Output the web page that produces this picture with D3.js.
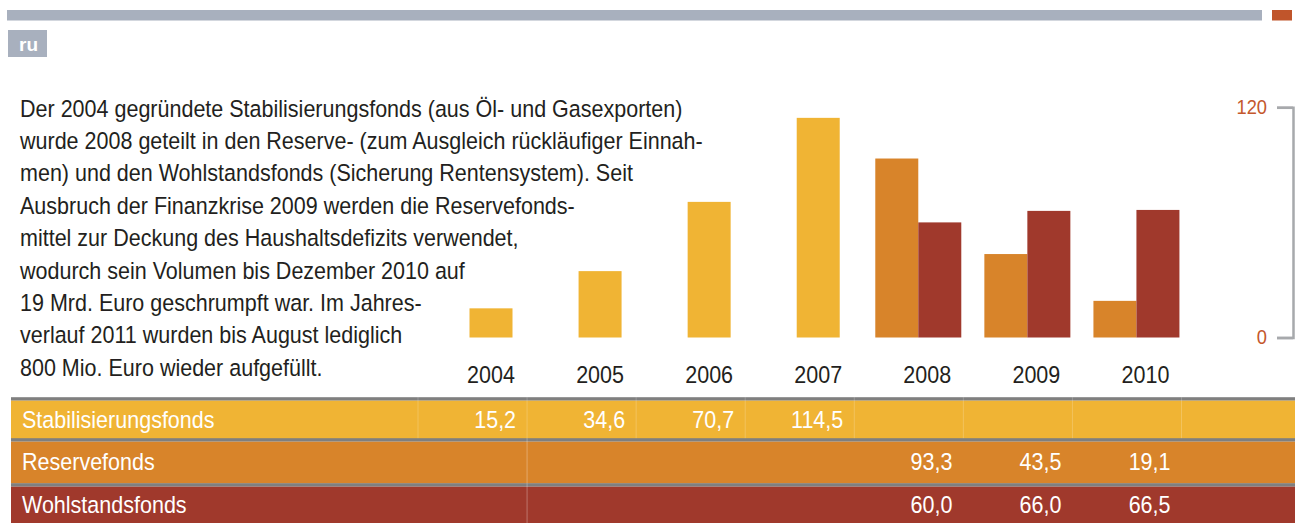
<!DOCTYPE html>
<html>
<head>
<meta charset="utf-8">
<script src="https://cdn.jsdelivr.net/npm/d3@7"></script>
<style>
  html, body { margin: 0; padding: 0; background: #fff; }
  svg { display: block; }
  text { font-family: "Liberation Sans", Arial, sans-serif; }
</style>
</head>
<body>
<div class="chart-container"></div>
<script>
// data
const years = ["2004", "2005", "2006", "2007", "2008", "2009", "2010"];
const stabilisierung = [15.2, 34.6, 70.7, 114.5, null, null, null];
const reserve = [null, null, null, null, 93.3, 43.5, 19.1];
const wohlstand = [null, null, null, null, 60.0, 66.0, 66.5];
const seriesNames = ["Stabilisierungsfonds", "Reservefonds", "Wohlstandsfonds"];
const yTicks = [0, 120];
const noteLines = [
  "Der 2004 gegründete Stabilisierungsfonds (aus Öl- und Gasexporten)",
  "wurde 2008 geteilt in den Reserve- (zum Ausgleich rückläufiger Einnah-",
  "men) und den Wohlstandsfonds (Sicherung Rentensystem). Seit",
  "Ausbruch der Finanzkrise 2009 werden die Reservefonds-",
  "mittel zur Deckung des Haushaltsdefizits verwendet,",
  "wodurch sein Volumen bis Dezember 2010 auf",
  "19 Mrd. Euro geschrumpft war. Im Jahres-",
  "verlauf 2011 wurden bis August lediglich",
  "800 Mio. Euro wieder aufgefüllt."
];

const width = 1297;
const height = 523;
const colors = ["#f0b434", "#d8842a", "#a0392c"];
const grey = "#a8b0be";
const fs = 23.5;

const svg = d3.select(".chart-container").append("svg")
  .attr("width", width)
  .attr("height", height);

// no narrow font installed: squeeze Liberation Sans to the width of the first line
const probe = svg.append("text").style("font-size", fs + "px").text(noteLines[0]);
const sx = 663 / probe.node().getComputedTextLength();
probe.remove();

// place condensed text at (x, y)
const narrow = (sel, x, y) => sel.attr("transform", (d, i) =>
  `translate(${typeof x === "function" ? x(d, i) : x},${typeof y === "function" ? y(d, i) : y}) scale(${sx},1)`);

// header band + country tag
svg.append("rect").attr("x", 7).attr("y", 10).attr("width", 1255).attr("height", 10.5).attr("fill", grey);
svg.append("rect").attr("x", 1272).attr("y", 10).attr("width", 20).attr("height", 10.5).attr("fill", "#c0552b");
svg.append("rect").attr("x", 8).attr("y", 30).attr("width", 39).attr("height", 27).attr("fill", grey);
svg.append("text").attr("x", 19).attr("y", 51).attr("fill", "#fff")
  .style("font-size", "19px").style("font-weight", "bold").text("ru");

// paragraph
svg.append("g").selectAll("text")
  .data(noteLines)
  .join("text")
  .call(narrow, 20, (d, i) => 116.5 + i * 32.4)
  .attr("fill", "#231f20")
  .style("font-size", fs + "px")
  .text(d => d);

// scales
const xCol = d3.scaleBand().domain(years).range([418, 1181.5]);
const xc = d => xCol(d) + 73; // label / bar centre within a column
const y = d3.scaleLinear().domain([0, 120]).range([337.5, 107.3]);
const barW = 43;

// single bars (Stabilisierungsfonds)
svg.append("g").selectAll("rect")
  .data(years.map((yr, i) => ({ yr, v: stabilisierung[i] })).filter(d => d.v != null))
  .join("rect")
  .attr("x", d => xc(d.yr) - barW / 2)
  .attr("y", d => y(d.v))
  .attr("width", barW)
  .attr("height", d => y(0) - y(d.v))
  .attr("fill", colors[0]);

// paired bars (Reserve / Wohlstand)
[reserve, wohlstand].forEach((vals, k) => {
  svg.append("g").selectAll("rect")
    .data(years.map((yr, i) => ({ yr, v: vals[i] })).filter(d => d.v != null))
    .join("rect")
    .attr("x", d => xc(d.yr) - 9 - barW + k * barW)
    .attr("y", d => y(d.v))
    .attr("width", barW)
    .attr("height", d => y(0) - y(d.v))
    .attr("fill", colors[k + 1]);
});

// year labels
svg.append("g").selectAll("text")
  .data(years)
  .join("text")
  .call(narrow, d => xc(d), 383)
  .attr("text-anchor", "middle")
  .attr("fill", "#231f20")
  .style("font-size", fs + "px")
  .text(d => d);

// y axis bracket on the right
const yAxis = svg.append("g")
  .attr("transform", "translate(1293,0)")
  .call(d3.axisLeft(y).tickValues(yTicks).tickSize(16).tickSizeOuter(16).tickPadding(10));
yAxis.selectAll("path, line").attr("stroke", "#a7a9ac").attr("stroke-width", 2.5);
yAxis.selectAll("text").attr("fill", "#c4582c").style("font-size", "20px")
  .style("font-family", "'Liberation Sans', Arial, sans-serif")
  .attr("transform", `translate(-26,0) scale(${sx},1) translate(26,0)`);

// data table
const rowTop = [400.7, 441.7, 486.7];
const rowBottom = [439, 483.5, 523];
const rowBase = [427.5, 470, 512.7];
const tableSeries = [stabilisierung, reserve, wohlstand];
const fmt = v => d3.format(".1f")(v).replace(".", ",");

tableSeries.forEach((vals, r) => {
  const g = svg.append("g");
  g.append("rect").attr("x", 11).attr("y", rowTop[r] - 3.5).attr("width", 1284).attr("height", 3.5).attr("fill", "#7f7f7f");
  g.append("rect").attr("x", 11).attr("y", rowTop[r]).attr("width", 1284)
    .attr("height", rowBottom[r] - rowTop[r]).attr("fill", colors[r]);
  const seps = r === 0 ? years.map(d => xCol(d)).concat([xCol("2010") + xCol.bandwidth()]) : [xCol("2005")];
  g.selectAll("line.sep")
    .data(seps)
    .join("line")
    .attr("x1", d => d).attr("x2", d => d)
    .attr("y1", rowTop[r] - 3.5).attr("y2", rowBottom[r])
    .attr("stroke", "#fff").attr("stroke-opacity", r === 0 ? 0.2 : 0.3).attr("stroke-width", 1);
  g.append("text")
    .call(narrow, 22, rowBase[r])
    .attr("fill", "#fff").style("font-size", fs + "px")
    .text(seriesNames[r]);
  g.selectAll("text.val")
    .data(years.map((yr, i) => ({ yr, v: vals[i] })).filter(d => d.v != null))
    .join("text")
    .attr("class", "val")
    .call(narrow, d => xCol(d.yr) + xCol.bandwidth() - 11, rowBase[r])
    .attr("text-anchor", "end")
    .attr("fill", "#fff").style("font-size", fs + "px")
    .text(d => fmt(d.v));
});
</script>
</body>
</html>
